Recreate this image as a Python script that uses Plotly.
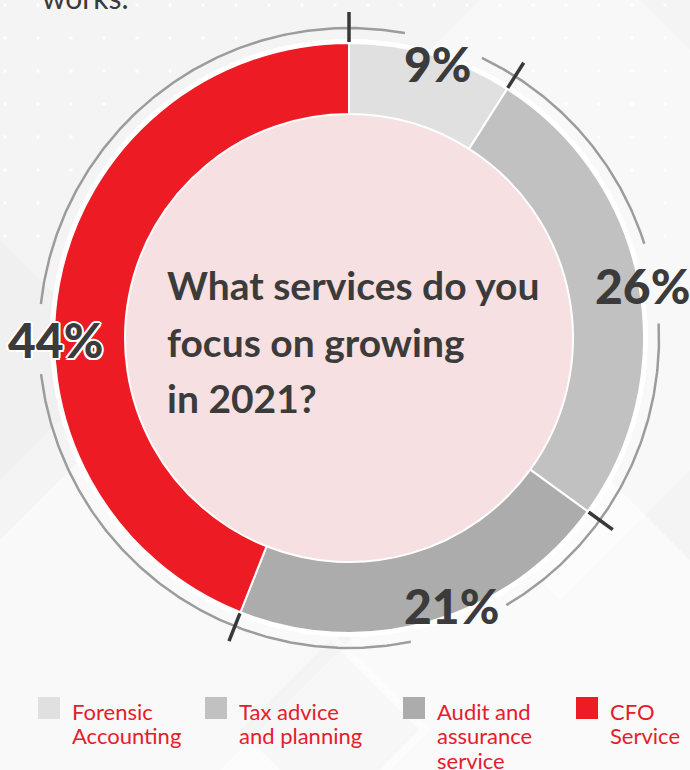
import math
import plotly.graph_objects as go

# ---- data -------------------------------------------------------------
categories = ["Forensic Accounting", "Tax advice and planning",
              "Audit and assurance service", "CFO Service"]
legend_lines = [["Forensic", "Accounting"], ["Tax advice", "and planning"],
                ["Audit and", "assurance", "service"], ["CFO", "Service"]]
shares = [9, 26, 21, 44]
value_labels = ["9%", "26%", "21%", "44%"]
colors = ["#e0e0e0", "#c1c1c1", "#acacac", "#ed1c24"]
question_lines = ["What services do you", "focus on growing", "in 2021?"]

# ---- geometry / style -------------------------------------------------
W, H = 690, 770
CX, CY = 349, 338          # donut centre (px)
R_OUT, R_IN = 295, 224     # donut radii
R_RING = 310               # thin outer guide ring
LABEL_SHIFT = [1.7, 0.6, -4.8, -11.0]   # deg, nudges from slice middle
LABEL_R = [288, 298, 286, 294]
GAP_HALF = [7.5, 7.5, 9.5, 6.5]         # ring gap around each label (deg)
DARK = "#3b3b3b"
RED_TXT = "#e3202a"
FONT = "Lato"


def pt(theta_deg, r):
    t = math.radians(theta_deg)
    return CX + r * math.sin(t), CY - r * math.cos(t)


total = sum(shares)
bounds = [0.0]
for s in shares:
    bounds.append(bounds[-1] + 360.0 * s / total)
mids = [(bounds[i] + bounds[i + 1]) / 2 for i in range(len(shares))]
label_ang = [m + d for m, d in zip(mids, LABEL_SHIFT)]

fig = go.Figure()

# decorative dot grid in the upper background
dx, dy = [], []
for j in range(8):
    for i in range(22):
        x, y = 5 + 33 * i, 5 + 33 * j
        if math.hypot(x - CX, y - CY) > R_RING + 8:
            dx.append(x)
            dy.append(y)
fig.add_trace(go.Scatter(x=dx, y=dy, mode="markers", hoverinfo="skip",
                         marker=dict(size=3.5, color="rgba(255,255,255,0.95)"),
                         showlegend=False))

# thin guide ring with gaps behind the value labels
gaps = sorted((a - g, a + g) for a, g in zip(label_ang, GAP_HALF))
rx, ry = [], []
for k in range(len(gaps)):
    a0 = gaps[k][1]
    a1 = gaps[(k + 1) % len(gaps)][0]
    if a1 <= a0:
        a1 += 360
    n = max(2, int((a1 - a0) / 0.5))
    for i in range(n + 1):
        x, y = pt(a0 + (a1 - a0) * i / n, R_RING)
        rx.append(x)
        ry.append(y)
    rx.append(None)
    ry.append(None)
fig.add_trace(go.Scatter(x=rx, y=ry, mode="lines", hoverinfo="skip",
                         line=dict(color="#9c9c9c", width=2.5),
                         showlegend=False))

# tick marks at the slice boundaries
tx, ty = [], []
for b in bounds[:-1]:
    for r in (R_OUT + 1, R_OUT + 31):
        x, y = pt(b, r)
        tx.append(x)
        ty.append(y)
    tx.append(None)
    ty.append(None)
fig.add_trace(go.Scatter(x=tx, y=ty, mode="lines", hoverinfo="skip",
                         line=dict(color="#383838", width=3.5),
                         showlegend=False))

# the donut
fig.add_trace(go.Pie(
    values=shares, labels=categories, sort=False, direction="clockwise",
    rotation=0, hole=R_IN / R_OUT, textinfo="none",
    hovertemplate="%{label}: %{value}%<extra></extra>",
    marker=dict(colors=colors, line=dict(color="white", width=2)),
    domain=dict(x=[(CX - R_OUT) / W, (CX + R_OUT) / W],
                y=[(H - CY - R_OUT) / H, (H - CY + R_OUT) / H]),
    showlegend=False,
))

shapes = []
# soft background facets
facets = [
    ([(560, -80), (900, 260), (560, 600), (220, 260)], "rgba(255,255,255,0.35)"),
    ([(120, 420), (430, 730), (120, 1040), (-190, 730)], "rgba(255,255,255,0.45)"),
    ([(560, 430), (900, 770), (560, 1110), (220, 770)], "rgba(255,255,255,0.55)"),
    ([(-120, 120), (120, 360), (-120, 600), (-360, 360)], "rgba(0,0,0,0.015)"),
    ([(330, 640), (420, 730), (330, 820), (240, 730)], "rgba(0,0,0,0.02)"),
]
for poly, fill in facets:
    path = "M " + " L ".join(f"{x},{y}" for x, y in poly) + " Z"
    shapes.append(dict(type="path", path=path, xref="x", yref="y",
                       fillcolor=fill, line=dict(width=0), layer="below"))
# white halo behind the ring and pink centre disc
shapes.append(dict(type="circle", xref="x", yref="y", layer="below",
                   x0=CX - R_OUT - 4, x1=CX + R_OUT + 4,
                   y0=CY - R_OUT - 4, y1=CY + R_OUT + 4,
                   fillcolor="#ffffff", line=dict(width=0)))
shapes.append(dict(type="circle", xref="x", yref="y", layer="below",
                   x0=CX - R_IN - 1, x1=CX + R_IN + 1,
                   y0=CY - R_IN - 1, y1=CY + R_IN + 1,
                   fillcolor="#f6e0e1", line=dict(width=0)))

# legend swatches
LEG_X = [38, 205, 403, 576]
LEG_Y0, SW = 697, 22
for x0, c in zip(LEG_X, colors):
    shapes.append(dict(type="rect", xref="x", yref="y", layer="above",
                       x0=x0, x1=x0 + SW, y0=LEG_Y0, y1=LEG_Y0 + SW,
                       fillcolor=c, line=dict(width=0)))

annotations = []
# value labels around the donut
for i, (txt, a) in enumerate(zip(value_labels, label_ang)):
    x, y = pt(a, LABEL_R[i])
    font = dict(family=FONT, size=48, color=DARK, weight=900)
    if colors[i] == "#ed1c24":
        font["shadow"] = ("2px 0 0 #fff, -2px 0 0 #fff, 0 2px 0 #fff, 0 -2px 0 #fff,"
                          " 1.5px 1.5px 0 #fff, -1.5px -1.5px 0 #fff,"
                          " 1.5px -1.5px 0 #fff, -1.5px 1.5px 0 #fff")
    annotations.append(dict(x=x, y=y, xref="x", yref="y", text=txt,
                            showarrow=False, xanchor="center",
                            yanchor="middle", font=font))

# question in the centre
for line, y in zip(question_lines, [285, 342, 398]):
    annotations.append(dict(x=165, y=y, xref="x", yref="y", text=line,
                            showarrow=False, xanchor="left", yanchor="middle",
                            font=dict(family=FONT, size=39, color=DARK,
                                      weight=700)))

# legend text
for x0, lines in zip(LEG_X, legend_lines):
    for k, line in enumerate(lines):
        annotations.append(dict(x=x0 + 32, y=711 + 24.5 * k, xref="x", yref="y",
                                text=line, showarrow=False, xanchor="left",
                                yanchor="middle",
                                font=dict(family=FONT, size=22,
                                          color=RED_TXT)))

# tail of the preceding sentence at the top edge (paper-anchored so it
# may sit partly above the canvas)
annotations.append(dict(x=40 / W, y=1 + 3 / H, xref="paper", yref="paper",
                        text="works.", showarrow=False, xanchor="left",
                        yanchor="middle",
                        font=dict(family=FONT, size=30, color=DARK)))

fig.update_layout(
    width=W, height=H, margin=dict(l=0, r=0, t=0, b=0),
    paper_bgcolor="#f4f4f4", plot_bgcolor="rgba(0,0,0,0)",
    xaxis=dict(range=[0, W], visible=False, fixedrange=True),
    yaxis=dict(range=[H, 0], visible=False, fixedrange=True),
    shapes=shapes, annotations=annotations, showlegend=False,
)

fig.write_html("out.html", config={"displayModeBar": False})
